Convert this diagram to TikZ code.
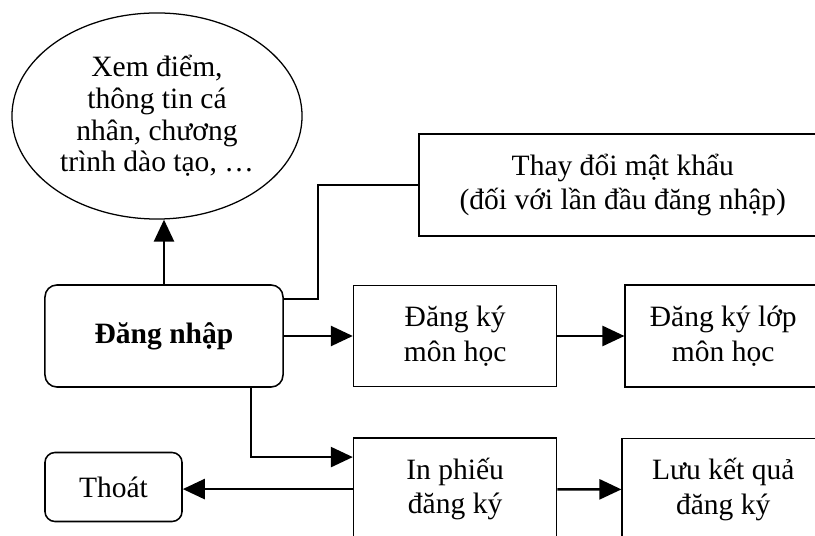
\documentclass[tikz,border=0pt]{standalone}
\usepackage{fontspec}
\setmainfont{Liberation Serif}
\usetikzlibrary{arrows.meta,positioning,shapes.geometric,calc}
\tikzset{every node/.append style={align=center}}

\begin{document}
\begin{tikzpicture}[x=0.025cm, y=-0.025cm, >={Triangle[length=0.55cm,width=0.5cm]},
  every node/.style={font=\fontsize{21}{24.5}\selectfont, align=center, inner sep=0pt},
  box/.style={draw, line width=1.1pt, minimum height=2.55cm},
  rbox/.style={box, rounded corners=0.3cm},
  arr/.style={->, line width=1.8pt}]
  \clip (0,0) rectangle (815,536);
  \node[draw, ellipse, line width=0.9pt, minimum width=7.25cm, minimum height=5.15cm, font=\fontsize{21}{22.5}\selectfont] (view) at (157,116) {Xem điểm,\\thông tin cá\\nhân, chương\\trình dào tạo, …};
  \node[rbox, minimum width=5.95cm] (login) at (164,336) {\textbf{Đăng nhập}};
  \node[box, minimum width=5.075cm, minimum height=2.525cm, right=1.725cm of login] (dkmh) {Đăng ký\\môn học};
  \node[box, minimum width=4.9cm, right=1.675cm of dkmh] (dklop) {Đăng ký lớp\\môn học};
  \node[box, minimum width=10.2cm, anchor=south west] (pwd) at (418,237) {Thay đổi mật khẩu\\(đối với lần đầu đăng nhập)};
  \node[box, minimum width=5.075cm, below=1.25cm of dkmh] (inphieu) {In phiếu\\đăng ký};
  \node[box, minimum width=5.05cm, below=1.25cm of dklop] (luu) {Lưu kết quả\\đăng ký};
  \node[rbox, minimum width=3.425cm, minimum height=1.725cm, rounded corners=0.25cm] (thoat) at (113.5,487) {Thoát};
  \draw[arr] (login.north) -- (login.north |- view.south);
  \draw[arr] (login.east) -- (dkmh.west);
  \draw[arr] (dkmh) -- (dklop);
  \draw[arr] ([xshift=-0.825cm]login.south east) |- ([yshift=0.8cm]inphieu.west);
  \draw[arr] (inphieu.west) -- (inphieu.west -| thoat.east);
  \draw[arr] (inphieu) -- (luu);
  \draw[line width=1.1pt] ([yshift=0.925cm]login.east) -- ++(0.85cm,0) |- (pwd.west);
\end{tikzpicture}
\end{document}
